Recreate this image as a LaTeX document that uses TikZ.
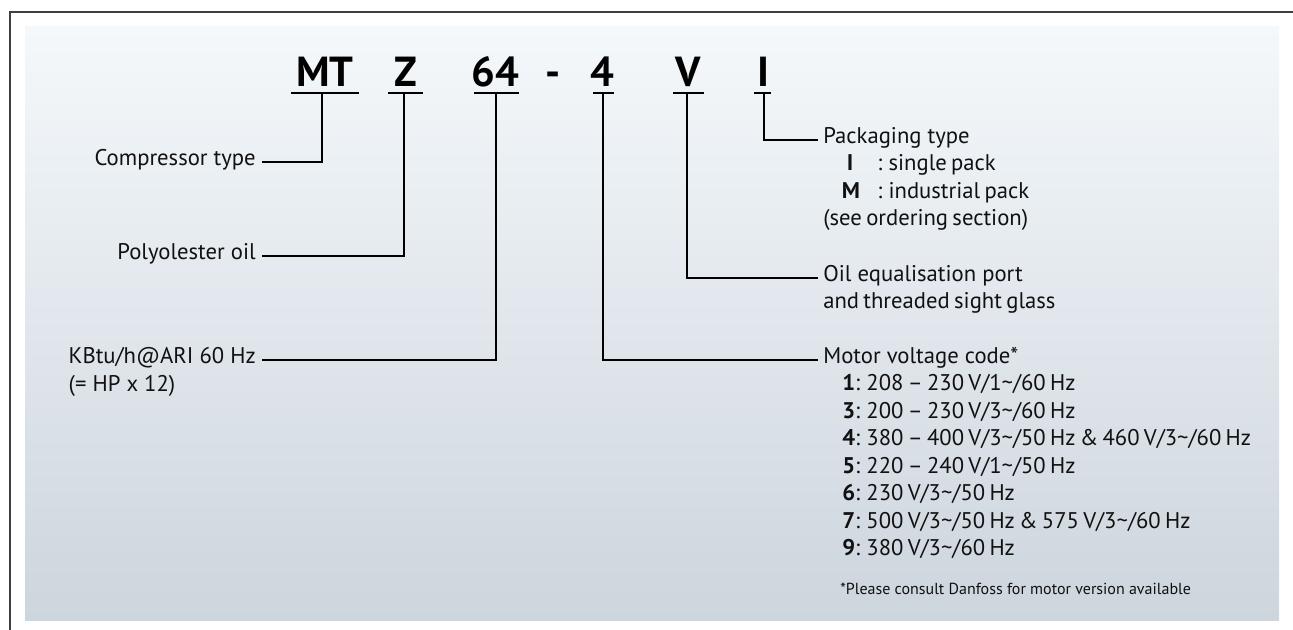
\documentclass[tikz,border=0pt]{standalone}
\usepackage{fontspec}
\setmainfont{PT Sans}
\usetikzlibrary{calc}
\definecolor{framec}{HTML}{3E3E3E}
\definecolor{ptop}{HTML}{F4F8FB}
\definecolor{pbot}{HTML}{CDD5DD}
\definecolor{ink}{HTML}{111111}
\newcommand{\tightspacing}{\spaceskip=0.19em plus 0.05em\relax}
\begin{document}
\begin{tikzpicture}[x=0.75pt,y=-0.75pt,
  title/.style={font=\fontsize{31.5}{31.5}\selectfont\bfseries, anchor=base, inner sep=0pt, text=black},
  uline/.style={line width=1.5pt, black},
  conn/.style={line width=1.5pt, black},
  lblL/.style={font=\fontsize{17}{20}\selectfont, anchor=mid east, inner xsep=4.5pt, inner ysep=0pt, text=ink},
  lblR/.style={font=\fontsize{17}{20}\selectfont, anchor=mid west, inner xsep=3.8pt, inner ysep=0pt, text=ink},
  item/.style={font=\fontsize{17}{20}\selectfont, execute at begin node=\tightspacing, anchor=mid west, inner sep=0pt, text=ink},
  bitem/.style={font=\fontsize{17}{20}\selectfont\bfseries, anchor=mid, inner sep=0pt, text=ink},
  foot/.style={font=\fontsize{12}{14}\selectfont, anchor=mid west, inner sep=0pt, text=ink}]
\useasboundingbox (0,0) rectangle (1293,630);
% panel and frame
\shade[top color=ptop, bottom color=pbot] (25,27) rectangle (1279,621);
\draw[framec, line width=1.2pt] (1293,12) -- (10,12) -- (10,630);

% title code
\node[title] (tMT) at (325,87) {MT};
\node[title] (tZ) at (405.5,87) {Z};
\node[title] (t64) at (495.5,87) {64};
\node[title] (tdash) at (553.5,87) {-};
\node[title] (t4) at (602.5,87) {4};
\node[title] (tV) at (688.5,87) {V};
\node[title] (tI) at (763,87) {I};

\draw[uline] (291,93) -- (359,93);
\draw[uline] (388,93) -- (423,93);
\draw[uline] (474,93) -- (519,93);
\draw[uline] (593,93) -- (614,93);
\draw[uline] (673,93) -- (704,93);
\draw[uline] (754,93) -- (771,93);

\coordinate (sMT) at (322,93);
\coordinate (sZ) at (404,93);
\coordinate (s64) at (496,93);
\coordinate (s4) at (603,93);
\coordinate (sV) at (687,93);
\coordinate (sI) at (764,93);

% left labels
\node[lblL] (lC) at (262,162) {Compressor type};
\node[lblL] (lP) at (262,256) {Polyolester oil};
\node[lblL] (lK) at (262,360) {KBtu/h@ARI 60 Hz};
\node[lblL, anchor=mid west] (lK2) at ($(lK.mid west)+(0,28)$) {(= HP x 12)};

% right labels
\node[lblR] (rP) at (818,140) {Packaging type};
\node[bitem] (rP1a) at (850,167.5) {I};
\node[item] (rP1b) at (877,167.5) {: single pack};
\node[bitem] (rP2a) at (851,195) {M};
\node[item] (rP2b) at (877,195) {: industrial pack};
\node[item] (rP3) at (823,222.5) {(see ordering section)};

\node[lblR] (rO) at (818,278) {Oil equalisation port};
\node[item] (rO2) at (823,305.5) {and threaded sight glass};

\node[lblR] (rM) at (818,360) {Motor voltage code*};
\node[item] (m1) at (842,387.5) {\textbf{1}: 208 – 230 V/1\textasciitilde/60 Hz};
\node[item] (m3) at (842,415) {\textbf{3}: 200 – 230 V/3\textasciitilde/60 Hz};
\node[item] (m4) at (842,442.5) {\textbf{4}: 380 – 400 V/3\textasciitilde/50 Hz \& 460 V/3\textasciitilde/60 Hz};
\node[item] (m5) at (842,470) {\textbf{5}: 220 – 240 V/1\textasciitilde/50 Hz};
\node[item] (m6) at (842,497.5) {\textbf{6}: 230 V/3\textasciitilde/50 Hz};
\node[item] (m7) at (842,525) {\textbf{7}: 500 V/3\textasciitilde/50 Hz \& 575 V/3\textasciitilde/60 Hz};
\node[item] (m9) at (842,552.5) {\textbf{9}: 380 V/3\textasciitilde/60 Hz};
\node[foot] (fn) at (840,591) {*Please consult Danfoss for motor version available};

% connectors
\draw[conn] (sMT) |- (lC.mid east);
\draw[conn] (sZ) |- (lP.mid east);
\draw[conn] (s64) |- (lK.mid east);
\draw[conn] (s4) |- (rM.mid west);
\draw[conn] (sV) |- (rO.mid west);
\draw[conn] (sI) |- (rP.mid west);
\end{tikzpicture}
\end{document}
